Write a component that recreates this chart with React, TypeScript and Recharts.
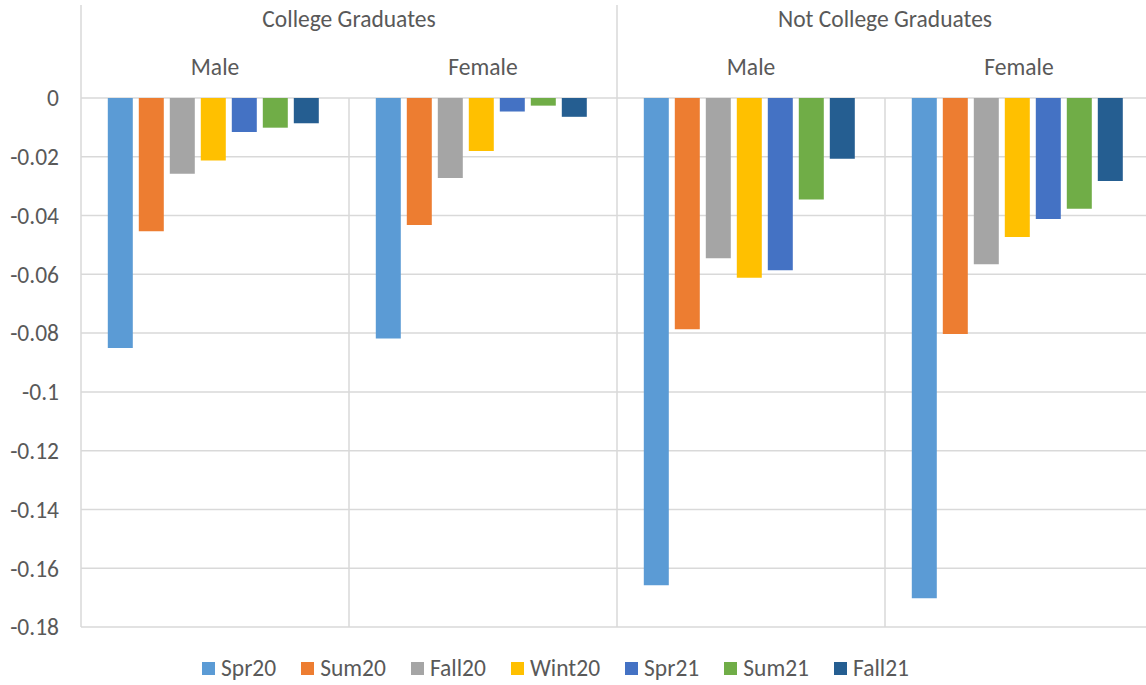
import { BarChart, Bar, XAxis, YAxis, CartesianGrid } from "recharts"

// category labels (two levels) and series
const genders = ["Male", "Female", "Male", "Female"]
const education = ["College Graduates", "College Graduates", "Not College Graduates", "Not College Graduates"]
const seasons = ["Spr20", "Sum20", "Fall20", "Wint20", "Spr21", "Sum21", "Fall21"]
const colors = ["#5B9BD5", "#ED7D31", "#A5A5A5", "#FFC000", "#4472C4", "#70AD47", "#255E91"]

// values per group: CG male, CG female, NCG male, NCG female
const spr20 = [-0.0851, -0.0818, -0.1658, -0.1702]
const sum20 = [-0.0453, -0.0432, -0.0787, -0.0803]
const fall20 = [-0.0258, -0.0272, -0.0545, -0.0566]
const wint20 = [-0.0213, -0.018, -0.0612, -0.0473]
const spr21 = [-0.0116, -0.0046, -0.0586, -0.0412]
const sum21 = [-0.0101, -0.0026, -0.0345, -0.0377]
const fall21 = [-0.0086, -0.0064, -0.0207, -0.0282]

const yTicks = [0, -0.02, -0.04, -0.06, -0.08, -0.1, -0.12, -0.14, -0.16, -0.18]

const seriesValues = [spr20, sum20, fall20, wint20, spr21, sum21, fall21]

const data = genders.map((g, i) => {
  const row: Record<string, string | number> = { gender: g, edu: education[i] }
  seasons.forEach((s, k) => {
    row[s] = seriesValues[k][i]
  })
  return row
})

const FONT = "Carlito, Calibri, 'Open Sans', sans-serif"
const FS = 23.5
const TEXT = "#595959"
const GRID = "#d9d9d9"
const INNER_H = 50
const OUTER_H = 48

function GenderTick(props: any) {
  const { x, y, payload } = props
  return (
    <text x={x} y={y - 31} textAnchor="middle" dominantBaseline="central" fill={TEXT} fontSize={FS} fontFamily={FONT}>
      {payload.value}
    </text>
  )
}

function EduTick(props: any) {
  const { x, y, payload } = props
  const half = payload.offset || 268
  return (
    <g>
      <line x1={x - half} x2={x - half} y1={y - OUTER_H + 5} y2={y + INNER_H} stroke={GRID} strokeWidth={1.5} />
      <text x={x} y={y - 29} textAnchor="middle" dominantBaseline="central" fill={TEXT} fontSize={FS} fontFamily={FONT}>
        {payload.value}
      </text>
    </g>
  )
}

export default function App() {
  return (
    <div style={{ position: "absolute", left: 0, top: 0, width: 1146, height: 685, overflow: "hidden", background: "#fff" }}>
      <BarChart
        width={1160}
        height={685}
        data={data}
        margin={{ top: 0, right: 7, left: 0, bottom: 58 }}
        barCategoryGap="10%"
        barGap={6}
      >
        <CartesianGrid
          stroke={GRID}
          strokeWidth={1.5}
          verticalCoordinatesGenerator={({ offset }: any) =>
            [0, 1, 2, 3, 4].map((k) => offset.left + (k * offset.width) / 4)
          }
        />
        <XAxis
          dataKey="gender"
          orientation="top"
          height={INNER_H}
          axisLine={false}
          tickLine={false}
          tickSize={0}
          tickMargin={0}
          interval={0}
          tick={<GenderTick />}
        />
        <XAxis
          xAxisId="edu"
          dataKey="edu"
          orientation="top"
          height={OUTER_H}
          allowDuplicatedCategory={false}
          axisLine={false}
          tickLine={false}
          tickSize={0}
          tickMargin={0}
          interval={0}
          tick={<EduTick />}
        />
        <YAxis
          width={81}
          domain={[-0.18, 0]}
          ticks={yTicks}
          interval={0}
          axisLine={false}
          tickLine={false}
          tickSize={0}
          tickMargin={22}
          tickFormatter={(v: number) => String(v)}
          tick={{ fill: TEXT, fontSize: FS, fontFamily: FONT }}
        />
        {seasons.map((s, k) => (
          <Bar key={s} dataKey={s} fill={colors[k]} isAnimationActive={false} />
        ))}
      </BarChart>
      <div
        style={{
          position: "absolute",
          left: 0,
          top: 653,
          width: 1111,
          display: "flex",
          justifyContent: "center",
          gap: 25,
          fontFamily: FONT,
          fontSize: FS,
          color: TEXT,
          lineHeight: "30px",
        }}
      >
        {seasons.map((s, k) => (
          <div key={s} style={{ display: "flex", alignItems: "center", gap: 6 }}>
            <span style={{ width: 13, height: 13, background: colors[k], display: "inline-block" }} />
            <span>{s}</span>
          </div>
        ))}
      </div>
    </div>
  )
}
